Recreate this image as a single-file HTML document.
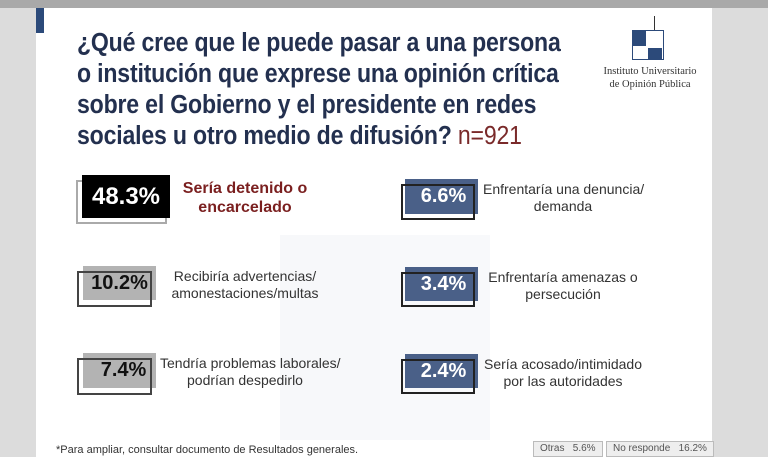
<!DOCTYPE html>
<html><head><meta charset="utf-8"><style>
body{margin:0;width:768px;height:457px;background:#dcdcdc;position:relative;overflow:hidden;font-family:"Liberation Sans",sans-serif}
.a{position:absolute}
.slide{left:36px;top:8px;width:676px;height:449px;background:#fff}
.title{left:77px;top:28px;font-family:"Liberation Sans Narrow","Liberation Sans",sans-serif;font-weight:bold;color:#23304f;font-size:25.5px;line-height:31px;letter-spacing:-0.2px;transform:scaleX(0.905);transform-origin:left top;white-space:nowrap}
.n{color:#7a2a2a;font-weight:normal}
.pct{font-weight:bold;font-size:20px;display:flex;align-items:center;justify-content:center}
.lab{font-size:14px;color:#333;text-align:center;line-height:17px;white-space:nowrap}
.tag{font-size:10px;color:#555;border:1px solid #bbb;background:#eee;height:14px;line-height:14px;padding:0 6px}
</style></head><body>
<div class="a" style="left:0;top:0;width:768px;height:8px;background:#a9a9a9"></div>
<div class="a slide"></div>
<div class="a" style="left:36px;top:8px;width:8px;height:25px;background:#2c4a7a"></div>
<div class="a title">¿Qué cree que le puede pasar a una persona<br>o institución que exprese una opinión crítica<br>sobre el Gobierno y el presidente en redes<br>sociales u otro medio de difusión? <span class="n">n=921</span></div>
<!-- logo -->
<div class="a" style="left:632px;top:30px;width:30px;height:28px;border:1px solid #2c4a7a"></div>
<div class="a" style="left:632px;top:30px;width:14px;height:16px;background:#2c4a7a"></div>
<div class="a" style="left:648px;top:48px;width:14px;height:11px;background:#2c4a7a"></div>
<div class="a" style="left:654px;top:16px;width:1px;height:14px;background:#333"></div>
<div class="a" style="left:603px;top:65px;width:94px;font-family:'Liberation Serif',serif;font-size:10.5px;color:#333;text-align:center;line-height:13px">Instituto Universitario<br>de Opinión Pública</div>
<!-- watermark -->
<div class="a" style="left:280px;top:235px;width:100px;height:205px;background:#f7f8fa"></div>
<div class="a" style="left:380px;top:235px;width:110px;height:205px;background:#f8f9fb"></div>
<!-- left boxes -->
<div class="a" style="left:76px;top:180px;width:87px;height:40px;border:2px solid #aaa"></div>
<div class="a pct" style="left:82px;top:175px;width:88px;height:43px;background:#000;color:#fff;font-size:24px">48.3%</div>
<div class="a lab" style="left:175px;top:179px;width:140px;color:#7a1f1f;font-weight:bold;font-size:16px;line-height:19px">Sería detenido o<br>encarcelado</div>
<div class="a pct" style="left:83px;top:266px;width:73px;height:34px;background:#b3b3b3;color:#111">10.2%</div>
<div class="a" style="left:77px;top:271px;width:71px;height:32px;border:2px solid #444"></div>
<div class="a lab" style="left:170px;top:268px;width:150px">Recibiría advertencias/<br>amonestaciones/multas</div>
<div class="a pct" style="left:83px;top:353px;width:73px;height:35px;background:#b3b3b3;color:#111"><span style="margin-left:8px">7.4%</span></div>
<div class="a" style="left:77px;top:358px;width:71px;height:33px;border:2px solid #444"></div>
<div class="a lab" style="left:160px;top:355px;width:170px">Tendría problemas laborales/<br>podrían despedirlo</div>
<!-- right boxes -->
<div class="a pct" style="left:405px;top:179px;width:73px;height:35px;background:#4a6088;color:#fff"><span style="margin-left:4px">6.6%</span></div>
<div class="a" style="left:401px;top:184px;width:70px;height:32px;border:2px solid #222"></div>
<div class="a lab" style="left:483px;top:181px;width:160px">Enfrentaría una denuncia/<br>demanda</div>
<div class="a pct" style="left:405px;top:267px;width:73px;height:34px;background:#4a6088;color:#fff"><span style="margin-left:4px">3.4%</span></div>
<div class="a" style="left:401px;top:272px;width:70px;height:31px;border:2px solid #222"></div>
<div class="a lab" style="left:483px;top:269px;width:160px">Enfrentaría amenazas o<br>persecución</div>
<div class="a pct" style="left:405px;top:354px;width:73px;height:34px;background:#4a6088;color:#fff"><span style="margin-left:4px">2.4%</span></div>
<div class="a" style="left:401px;top:359px;width:70px;height:31px;border:2px solid #222"></div>
<div class="a lab" style="left:483px;top:356px;width:160px">Sería acosado/intimidado<br>por las autoridades</div>
<!-- footer -->
<div class="a" style="left:56px;top:444px;font-size:11px;color:#333">*Para ampliar, consultar documento de Resultados generales.</div>
<div class="a tag" style="left:533px;top:441px">Otras &nbsp; 5.6%</div>
<div class="a tag" style="left:606px;top:441px">No responde &nbsp; 16.2%</div>
</body></html>
